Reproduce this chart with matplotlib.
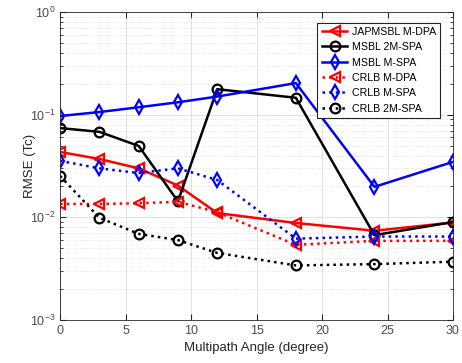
import matplotlib
matplotlib.use('Agg')
import matplotlib.pyplot as plt
import numpy as np

plt.rcParams['font.family'] = ['Liberation Sans', 'DejaVu Sans']
plt.rcParams['mathtext.default'] = 'regular'
plt.rcParams['font.size'] = 9

# Daten
angle = [0, 3, 6, 9, 12, 18, 24, 30]
japmsbl_mdpa = [0.0433, 0.037, 0.030, 0.0204, 0.011, 0.0088, 0.0074, 0.0089]
msbl_2mspa = [0.074, 0.068, 0.0496, 0.0143, 0.177, 0.146, 0.0067, 0.009]
msbl_mspa = [0.097, 0.106, 0.118, 0.132, 0.150, 0.203, 0.0198, 0.0347]
crlb_mdpa = [0.0135, 0.0135, 0.0137, 0.0142, 0.0112, 0.0054, 0.0059, 0.0059]
crlb_mspa = [0.0355, 0.030, 0.027, 0.030, 0.0231, 0.0062, 0.0065, 0.0065]
crlb_2mspa = [0.0253, 0.0099, 0.0069, 0.0060, 0.0045, 0.0034, 0.0035, 0.0037]
labels = ['JAPMSBL M-DPA', 'MSBL 2M-SPA', 'MSBL M-SPA',
          'CRLB M-DPA', 'CRLB M-SPA', 'CRLB 2M-SPA']

fig = plt.figure(figsize=(4.62, 3.63), dpi=100)
ax = fig.add_axes([0.13, 0.1185, 0.8505, 0.8485])

kw = dict(linewidth=1.8, markersize=7, markeredgewidth=1.6, markerfacecolor='none')
ax.plot(angle, japmsbl_mdpa, '-', color='red', marker='<', label=labels[0], **kw)
ax.plot(angle, msbl_2mspa, '-', color='black', marker='o', label=labels[1], **kw)
ax.plot(angle, msbl_mspa, '-', color='blue', marker='d', label=labels[2], **kw)
ax.plot(angle, crlb_mdpa, ':', color='red', marker='<', label=labels[3], **kw)
ax.plot(angle, crlb_mspa, ':', color='blue', marker='d', label=labels[4], **kw)
ax.plot(angle, crlb_2mspa, ':', color='black', marker='o', label=labels[5], **kw)

ax.set_yscale('log')
ax.set_xlim(0, 30)
ax.set_ylim(1e-3, 1)
ax.set_xticks([0, 5, 10, 15, 20, 25, 30])
ax.set_xlabel('Multipath Angle (degree)', color='#262626', fontsize=9.5)
ax.set_ylabel('RMSE (Tc)', color='#262626', fontsize=9.5)
ax.yaxis.set_label_coords(-0.062, 0.5)

ax.grid(True, which='major', color='#dcdcdc', linewidth=0.6)
ax.grid(True, which='minor', axis='y', color='#dcdcdc', linestyle=':', linewidth=0.6)
ax.tick_params(which='both', direction='in', top=True, right=True,
               colors='#262626', labelcolor='#4d4d4d', labelsize=9)
ax.tick_params(which='major', length=4)
ax.tick_params(which='minor', length=2)
for s in ax.spines.values():
    s.set_color('#262626')
    s.set_linewidth(0.6)

leg = ax.legend(loc='upper right', bbox_to_anchor=(0.981, 0.983), fancybox=False,
                edgecolor='#262626', framealpha=1, handlelength=2.4, fontsize=7.7,
                borderpad=0.4, labelspacing=0.5, handletextpad=0.4)
leg.get_frame().set_linewidth(0.8)

fig.savefig('out.png', dpi=100)
